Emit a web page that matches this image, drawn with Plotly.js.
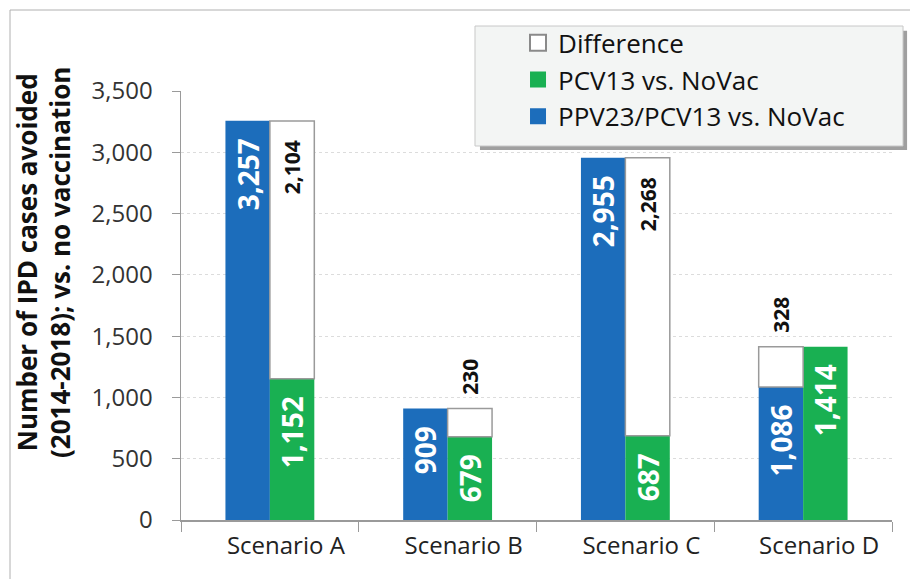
<!DOCTYPE html>
<html>
<head>
<meta charset="utf-8">
<script src="https://cdn.plot.ly/plotly-3.0.1.min.js"></script>
<style>html,body{margin:0;padding:0;background:#fff}#chart{width:910px;height:579px}</style>
</head>
<body>
<div id="chart"></div>
<script>
const categories = ["Scenario A", "Scenario B", "Scenario C", "Scenario D"];
const ppv23Values = [3257, 909, 2955, 1086];
const pcv13Values = [1152, 679, 687, 1414];
const differenceValues = [2104, 230, 2268, 328];
const yTickVals = [0, 500, 1000, 1500, 2000, 2500, 3000, 3500];

const fmt = v => v.toLocaleString('en-US');
const FONT = '"Open Sans", "Noto Sans", sans-serif';
const NB = '\u00a0';

// Difference sits on top of the smaller bar of each scenario
const diffOnGreenIdx = [], diffOnBlueIdx = [];
categories.forEach((c, i) => {
  if (pcv13Values[i] <= ppv23Values[i]) diffOnGreenIdx.push(i); else diffOnBlueIdx.push(i);
});
const pick = (arr, idx) => idx.map(i => arr[i]);
const diffPos = idx => idx.map(i => differenceValues[i] > 600 ? 'inside' : 'outside');
const diffText = idx => idx.map(i => differenceValues[i] > 600 ? fmt(differenceValues[i]) + NB + NB + NB : NB + NB + fmt(differenceValues[i]));

const blue = '#1c6dbb', green = '#19b052';

const traces = [
  {
    type: 'bar', name: 'PPV23/PCV13 vs. NoVac', x: categories, y: ppv23Values, showlegend: false,
    offsetgroup: 'a', marker: {color: blue, line: {width: 0}},
    text: ppv23Values.map(v => fmt(v) + NB + NB), textposition: 'inside', insidetextanchor: 'end',
    constraintext: 'none',
    textangle: -90, textfont: {family: FONT, size: 28, color: '#fff', weight: 'bold'},
    hoverinfo: 'skip'
  },
  {
    type: 'bar', name: 'PCV13 vs. NoVac', x: categories, y: pcv13Values, showlegend: false,
    offsetgroup: 'b', marker: {color: green, line: {width: 0}},
    text: pcv13Values.map(v => fmt(v) + NB + NB), textposition: 'inside', insidetextanchor: 'end',
    constraintext: 'none',
    textangle: -90, textfont: {family: FONT, size: 28, color: '#fff', weight: 'bold'},
    hoverinfo: 'skip'
  },
  {
    type: 'bar', name: 'Difference', showlegend: false, x: pick(categories, diffOnGreenIdx),
    y: pick(differenceValues, diffOnGreenIdx), base: pick(pcv13Values, diffOnGreenIdx),
    offsetgroup: 'b', marker: {color: '#ffffff', line: {width: 1.5, color: '#9a9a9a'}},
    text: diffText(diffOnGreenIdx), textposition: diffPos(diffOnGreenIdx),
    insidetextanchor: 'end', textangle: -90, cliponaxis: false, constraintext: 'none',
    textfont: {family: FONT, size: 21, color: '#111', weight: 'bold'}, hoverinfo: 'skip'
  },
  {
    type: 'bar', name: 'Difference', showlegend: false, x: pick(categories, diffOnBlueIdx),
    y: pick(differenceValues, diffOnBlueIdx), base: pick(ppv23Values, diffOnBlueIdx),
    offsetgroup: 'a', marker: {color: '#ffffff', line: {width: 1.5, color: '#9a9a9a'}},
    text: diffText(diffOnBlueIdx), textposition: diffPos(diffOnBlueIdx),
    insidetextanchor: 'end', textangle: -90, cliponaxis: false, constraintext: 'none',
    textfont: {family: FONT, size: 21, color: '#111', weight: 'bold'}, hoverinfo: 'skip'
  },
  // legend entries
  {type: 'scatter', mode: 'markers', name: 'Difference', x: [categories[0]], y: [null],
   marker: {symbol: 'square', size: 16, color: '#ffffff', line: {width: 2, color: '#8a8a8a'}}, hoverinfo: 'skip'},
  {type: 'scatter', mode: 'markers', name: 'PCV13 vs. NoVac', x: [categories[0]], y: [null],
   marker: {symbol: 'square', size: 16, color: green, line: {width: 0}}, hoverinfo: 'skip'},
  {type: 'scatter', mode: 'markers', name: 'PPV23/PCV13 vs. NoVac', x: [categories[0]], y: [null],
   marker: {symbol: 'square', size: 16, color: blue, line: {width: 0}}, hoverinfo: 'skip'}
];

const layout = {
  width: 910, height: 579,
  margin: {l: 181, r: 18, t: 91, b: 59},
  paper_bgcolor: '#fff', plot_bgcolor: '#fff',
  font: {family: FONT, color: '#333'},
  barmode: 'group', bargap: 0.5, bargroupgap: 0,
  showlegend: true,
  legend: {
    x: 0.474, y: 1.167, xanchor: 'left', yanchor: 'top',
    bgcolor: 'rgba(0,0,0,0)', borderwidth: 0, traceorder: 'normal',
    font: {family: FONT, size: 26, color: '#111'}, tracegroupgap: 0, itemwidth: 30
  },
  xaxis: {
    type: 'category', tickson: 'boundaries', ticks: 'outside', ticklen: 10,
    tickcolor: '#9a9a9a', showline: true, linecolor: '#9a9a9a', linewidth: 1.5,
    ticklabelshift: 16, ticklabelstandoff: 4,
    tickfont: {family: FONT, size: 24, color: '#222'}, showgrid: false, fixedrange: true
  },
  yaxis: {
    range: [0, 3500], tickvals: yTickVals, ticktext: yTickVals.map(fmt),
    ticks: 'outside', ticklen: 8, tickcolor: '#9a9a9a', showline: true,
    linecolor: '#9a9a9a', linewidth: 1.5, ticklabelstandoff: 14,
    tickfont: {family: FONT, size: 24, color: '#333'},
    showgrid: true, gridcolor: '#dcdcdc', griddash: 'dot', gridwidth: 1,
    zeroline: false, fixedrange: true
  },
  annotations: [
    {xref: 'paper', yref: 'paper', x: -0.193, y: 0.601, xanchor: 'center', yanchor: 'middle',
     textangle: -90, showarrow: false, align: 'center',
     text: 'Number of IPD cases avoided<br>(2014-2018); vs. no vaccination',
     font: {family: FONT, size: 26, color: '#111', weight: 'bold'}}
  ],
  shapes: [
    {type: 'rect', xref: 'paper', yref: 'paper', x0: -0.2405, x1: 1.03, y0: -0.3, y1: 1.1888,
     line: {color: '#b0b0b0', width: 1}, fillcolor: 'rgba(0,0,0,0)', layer: 'below'},
    {type: 'rect', xref: 'paper', yref: 'paper', x0: 0.4205, x1: 1.0212, y0: 0.8625, y1: 1.1404,
     line: {width: 0}, fillcolor: 'rgba(80,80,80,0.55)', layer: 'above'},
    {type: 'rect', xref: 'paper', yref: 'paper', x0: 0.4135, x1: 1.0155, y0: 0.8718, y1: 1.1515,
     line: {color: '#c8c8c8', width: 1}, fillcolor: '#f3f5f4', layer: 'above'}
  ]
};

Plotly.newPlot('chart', traces, layout, {displayModeBar: false, staticPlot: true});
</script>
</body>
</html>
